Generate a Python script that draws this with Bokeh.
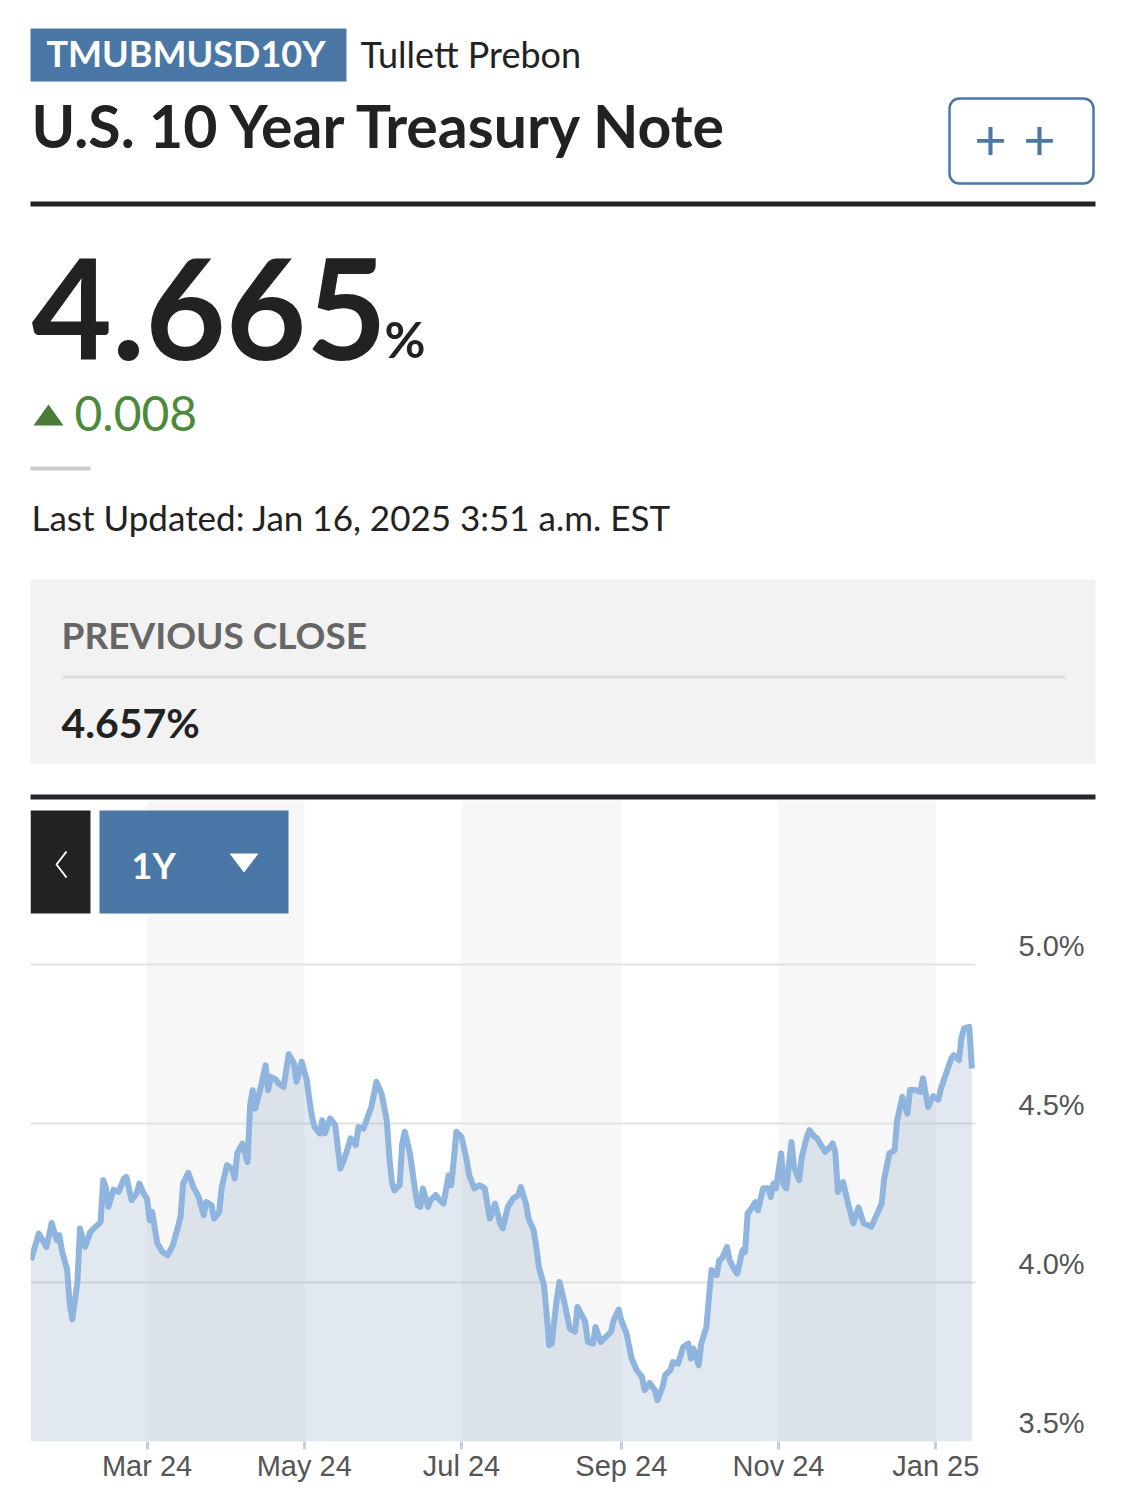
import pandas as pd
from bokeh.plotting import figure
from bokeh.models import (Range1d, FixedTicker, LinearAxis, DatetimeTickFormatter,
                          PrintfTickFormatter, BoxAnnotation)
from bokeh.layouts import column
from bokeh.embed import file_html
from bokeh.resources import INLINE
from bokeh.core.properties import value

# ---------------- data ----------------
ORIGIN = "2024-03-01"
# trading-day positions, as days since 1 Mar 2024
day_offsets = [
    -45, -42, -39, -37, -35, -34, -33, -31, -30, -29, -27, -26, -24, -22, -20, -18, -17, -16, -15, -13,
    -11, -9, -8, -6, -4, -3, -1, 0, 1, 2, 4, 6, 8, 10, 12, 13, 14, 16, 18, 20,
    22, 23, 25, 26, 28, 29, 31, 33, 34, 35, 37, 39, 40, 41, 42, 44, 46, 47, 48, 50,
    51, 53, 54, 55, 57, 58, 60, 62, 63, 64, 65, 67, 68, 69, 71, 73, 74, 75, 77, 79,
    81, 82, 84, 87, 89, 91, 93, 94, 95, 96, 98, 99, 100, 102, 104, 105, 106, 107, 109, 110,
    112, 113, 115, 117, 118, 119, 120, 122, 124, 125, 127, 129, 131, 132, 133, 135, 137, 138, 140, 142,
    144, 145, 147, 148, 150, 151, 152, 154, 155, 156, 157, 158, 159, 160, 162, 164, 166, 167, 169, 170,
    171, 173, 174, 176, 178, 180, 181, 183, 184, 186, 188, 190, 192, 193, 194, 195, 197, 198, 200, 201,
    203, 204, 206, 208, 210, 211, 212, 214, 215, 217, 218, 219, 221, 222, 223, 225, 226, 228, 229, 231,
    232, 233, 234, 236, 237, 239, 241, 242, 243, 244, 246, 247, 248, 250, 251, 253, 254, 256, 257, 259,
    260, 263, 265, 266, 267, 268, 270, 272, 274, 276, 278, 281, 283, 285, 286, 288, 290, 291, 293, 295,
    296, 298, 300, 301, 303, 305, 307, 308, 310, 312, 313, 315, 316, 317, 319, 320,
]
yields = [
    4.070, 4.154, 4.112, 4.187, 4.133, 4.149, 4.100, 4.040, 3.935, 3.884, 4.000, 4.170, 4.112, 4.159, 4.175, 4.190, 4.322, 4.300, 4.238, 4.292,
    4.285, 4.327, 4.332, 4.259, 4.280, 4.311, 4.275, 4.264, 4.196, 4.222, 4.123, 4.096, 4.086, 4.117, 4.175, 4.206, 4.311, 4.345, 4.300, 4.270,
    4.212, 4.253, 4.243, 4.201, 4.222, 4.300, 4.369, 4.358, 4.327, 4.406, 4.437, 4.379, 4.558, 4.605, 4.547, 4.610, 4.683, 4.605, 4.647, 4.638,
    4.626, 4.615, 4.668, 4.718, 4.689, 4.631, 4.694, 4.636, 4.573, 4.521, 4.489, 4.469, 4.510, 4.469, 4.516, 4.495, 4.426, 4.358, 4.400, 4.453,
    4.432, 4.489, 4.484, 4.552, 4.631, 4.594, 4.510, 4.395, 4.316, 4.290, 4.306, 4.437, 4.474, 4.406, 4.290, 4.243, 4.238, 4.296, 4.238, 4.259,
    4.275, 4.264, 4.248, 4.337, 4.306, 4.385, 4.474, 4.458, 4.385, 4.337, 4.296, 4.306, 4.296, 4.248, 4.201, 4.248, 4.186, 4.170, 4.238, 4.264,
    4.275, 4.300, 4.248, 4.201, 4.164, 4.112, 4.049, 3.991, 3.903, 3.803, 3.808, 3.881, 3.950, 4.002, 3.934, 3.855, 3.845, 3.923, 3.892, 3.876,
    3.813, 3.808, 3.860, 3.813, 3.829, 3.845, 3.881, 3.915, 3.881, 3.840, 3.761, 3.724, 3.703, 3.661, 3.672, 3.684, 3.661, 3.630, 3.672, 3.709,
    3.724, 3.750, 3.745, 3.797, 3.808, 3.761, 3.792, 3.740, 3.808, 3.860, 3.955, 4.039, 4.023, 4.070, 4.075, 4.112, 4.070, 4.039, 4.028, 4.102,
    4.096, 4.217, 4.227, 4.253, 4.227, 4.296, 4.296, 4.269, 4.311, 4.296, 4.406, 4.306, 4.296, 4.442, 4.364, 4.322, 4.395, 4.458, 4.479, 4.458,
    4.453, 4.411, 4.426, 4.437, 4.411, 4.285, 4.316, 4.248, 4.186, 4.236, 4.186, 4.175, 4.212, 4.248, 4.327, 4.406, 4.416, 4.510, 4.584, 4.531,
    4.605, 4.605, 4.599, 4.642, 4.552, 4.586, 4.575, 4.610, 4.657, 4.704, 4.715, 4.699, 4.772, 4.799, 4.804, 4.673,
]
tick_months = ["2024-03-01", "2024-05-01", "2024-07-01", "2024-09-01", "2024-11-01", "2025-01-01"]
band_starts = ["2024-03-01", "2024-07-01", "2024-11-01"]
band_ends = ["2024-05-01", "2024-09-01", "2025-01-01"]
y_ticks = [3.5, 4.0, 4.5, 5.0]

symbol = "TMUBMUSD10Y"
source_name = "Tullett Prebon"
title_text = "U.S. 10 Year Treasury Note"
last_value = "4.665"
change_value = "0.008"
updated_text = "Last Updated: Jan 16, 2025 3:51 a.m. EST"
prev_close_label = "PREVIOUS CLOSE"
prev_close_value = "4.657%"
period_label = "1Y"

# ---------------- styles / layout ----------------
BLUE = "#4a77a5"
DARK = "#222222"
GREEN = "#4b8a3b"
W, H = 1125, 1496
HDR_H = 800                                  # header part height (page y 0..800)
FL, FR, FT, FB = 30, 975, 800, 1441          # plot frame edges on the page
PX_PER_PCT = 318
LATO_MID = 0.387                             # em-box middle above the baseline (Lato)


def no_align(fig):
    if "frame_align" in fig.properties():
        fig.frame_align = False


# ---------------- header figure (page pixel coordinates) ----------------
hdr = figure(width=W, height=HDR_H, x_range=Range1d(0, W), y_range=Range1d(HDR_H, 0),
             x_axis_location=None, y_axis_location=None, toolbar_location=None,
             output_backend="svg", min_border=0, outline_line_color=None, title=None)
hdr.grid.visible = False
no_align(hdr)


def txt(p, x, base, s, size, color=DARK, style="normal", align="left", font="Lato"):
    # base = wanted baseline position; text is anchored at the em-box middle
    p.text(x=[x], y=[base - LATO_MID * size], text=[s], text_font=value(font),
           text_font_size=f"{size}px", text_font_style=style, text_color=color,
           text_align=align, text_baseline="middle")


def box(p, l, r, t, b, color):
    p.quad(left=[l], right=[r], top=[t], bottom=[b], fill_color=color, line_color=None)


box(hdr, 30, 346, 28, 81, BLUE)
txt(hdr, 46, 66, symbol, 36, "white", "bold")
txt(hdr, 360, 67, source_name, 36)
txt(hdr, 31, 148, title_text, 59, DARK, "bold")
hdr.add_layout(BoxAnnotation(left=949, right=1093, top=98, bottom=183, border_radius=10,
                             fill_color=None, fill_alpha=0, line_color=BLUE, line_alpha=1,
                             line_width=2.5))
txt(hdr, 990, 161, "+", 56, BLUE, "normal", "center")
txt(hdr, 1039, 161, "+", 56, BLUE, "normal", "center")
box(hdr, 30, 1095, 201, 206, DARK)
txt(hdr, 31, 362, last_value, 139, DARK, "bold")
txt(hdr, 384, 358, "%", 50, DARK, "bold")
hdr.patch(x=[33, 63, 48], y=[425, 425, 404], fill_color="#4a7d3a", line_color=None)
txt(hdr, 74, 432, change_value, 48, GREEN)
box(hdr, 30, 90, 466, 470, "#cccccc")
txt(hdr, 31, 530, updated_text, 35)
box(hdr, 30, 1095, 579, 763, "#f2f2f2")
txt(hdr, 61, 648, prev_close_label, 37, "#666666", "bold")
box(hdr, 62, 1065, 675, 678, "#dddddd")
txt(hdr, 61, 738, prev_close_value, 41, DARK, "bold")
box(hdr, 30, 1095, 794, 799, "#25282c")

# ---------------- chart figure ----------------
origin = pd.Timestamp(ORIGIN)
dates = origin + pd.to_timedelta(day_offsets, unit="D")
x_start = origin - pd.Timedelta(days=45.2)
x_end = origin + pd.Timedelta(days=321.4)
y_lo = 3.5
y_hi = y_lo + (FB - FT) / PX_PER_PCT

ch = figure(width=W, height=H - HDR_H, x_axis_type="datetime", x_range=Range1d(x_start, x_end),
            y_range=Range1d(y_lo, y_hi), y_axis_location=None, toolbar_location=None,
            output_backend="svg", min_border_left=FL, min_border_right=W - FR,
            min_border_top=FT - HDR_H, min_border_bottom=H - FB, outline_line_color=None, title=None)
no_align(ch)

ch.quad(left=pd.to_datetime(band_starts), right=pd.to_datetime(band_ends), bottom=y_lo, top=y_hi,
        fill_color="#f7f7f7", line_color=None, level="image")

ch.xgrid.visible = False
ch.ygrid.ticker = FixedTicker(ticks=y_ticks)
ch.ygrid.grid_line_color = "#e2e2e2"
ch.ygrid.grid_line_width = 2

ch.varea(x=dates, y1=y_lo, y2=yields, fill_color="#87a3c3", fill_alpha=0.25)
ch.line(x=dates, y=yields, line_color="#8fb5df", line_width=6, line_join="round")

xa = ch.xaxis[0]
xa.ticker = FixedTicker(ticks=[pd.Timestamp(d).value / 1e6 for d in tick_months])
fmt = "%b %y"
xa.formatter = DatetimeTickFormatter(microseconds=fmt, milliseconds=fmt, seconds=fmt, minsec=fmt,
                                     minutes=fmt, hourmin=fmt, hours=fmt, days=fmt, months=fmt, years=fmt)
xa.axis_line_color = None
xa.major_tick_in = 0
xa.major_tick_out = 8
xa.major_tick_line_color = "#c5cfdc"
xa.major_tick_line_width = 3
xa.minor_tick_line_color = None
xa.major_label_text_font = "Liberation Sans"
xa.major_label_text_font_size = "29px"
xa.major_label_text_color = "#555555"
xa.major_label_standoff = 0

shift = 19 / PX_PER_PCT
ch.extra_y_ranges = {"labels": Range1d(y_lo - shift, y_hi - shift)}
ya = LinearAxis(y_range_name="labels", ticker=FixedTicker(ticks=y_ticks),
                formatter=PrintfTickFormatter(format="%.1f%%"))
ya.axis_line_color = None
ya.major_tick_line_color = None
ya.minor_tick_line_color = None
ya.major_tick_in = 0
ya.major_tick_out = 0
ya.major_label_standoff = 43
ya.major_label_text_font = "Liberation Sans"
ya.major_label_text_font_size = "29px"
ya.major_label_text_color = "#555555"
ch.add_layout(ya, "right")

xs_ms, xe_ms = x_start.value / 1e6, x_end.value / 1e6


def px_x(px):  # page pixel -> chart data x (ms)
    return xs_ms + (px - FL) / (FR - FL) * (xe_ms - xs_ms)


def px_y(py):  # page pixel -> chart data y
    return y_lo + (FB - py) / PX_PER_PCT


# range selector buttons over the chart
ch.quad(left=[px_x(30)], right=[px_x(90)], top=[px_y(810)], bottom=[px_y(913)],
        fill_color="#222222", line_color=None)
ch.line(x=[px_x(66), px_x(56), px_x(66)], y=[px_y(851), px_y(864), px_y(877)],
        line_color="white", line_width=2)
ch.quad(left=[px_x(99)], right=[px_x(288)], top=[px_y(810)], bottom=[px_y(913)],
        fill_color=BLUE, line_color=None)
ch.text(x=[px_x(131)], y=[px_y(878 - LATO_MID * 36)], text=[period_label], text_font=value("Lato"),
        text_font_size="36px", text_font_style="bold", text_color="white",
        text_baseline="middle")
ch.patch(x=[px_x(229), px_x(258), px_x(243.5)], y=[px_y(853), px_y(853), px_y(872)],
         fill_color="white", line_color=None)

layout = column(hdr, ch)
open("out.html", "w").write(file_html(layout, INLINE))
